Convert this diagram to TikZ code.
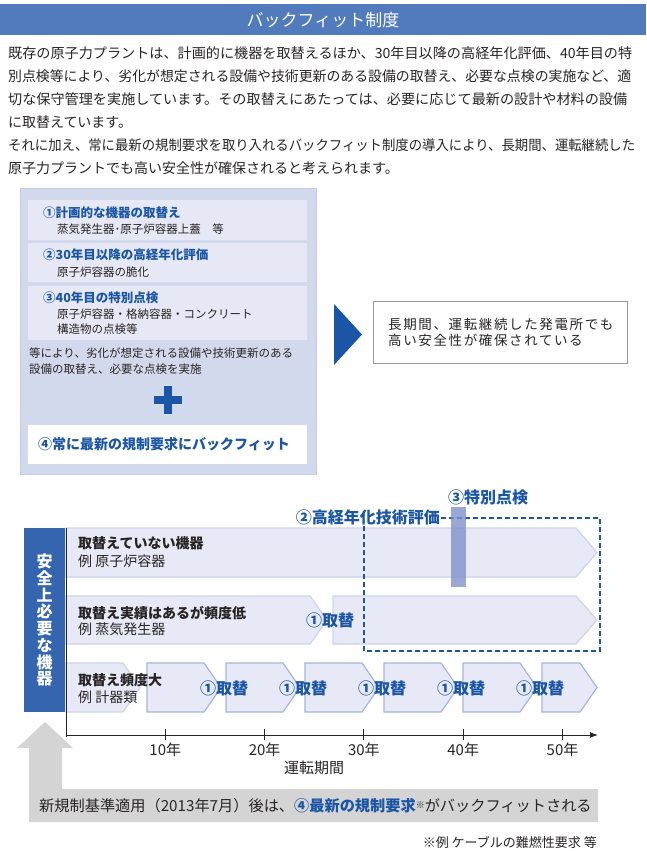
\documentclass[tikz,border=0pt]{standalone}
\usepackage{fontspec}
\setmainfont{Noto Sans CJK JP}
\newfontfamily\widejp[LetterSpace=12]{Noto Sans CJK JP}
\usepackage{graphicx}
\usetikzlibrary{arrows.meta, positioning}
\usepackage{xcolor}
\definecolor{titleblue}{RGB}{82,123,190}
\definecolor{markblue}{RGB}{26,86,165}
\definecolor{panelblue}{RGB}{211,217,236}
\definecolor{panelline}{RGB}{198,206,231}
\definecolor{cardblue}{RGB}{230,233,245}
\definecolor{arrowfill}{RGB}{231,234,246}
\definecolor{arrowline}{RGB}{204,211,234}
\definecolor{arrowdark}{RGB}{166,180,221}
\definecolor{safeblue}{RGB}{52,101,174}
\definecolor{checkbar}{RGB}{128,146,204}
\definecolor{basegray}{RGB}{212,212,212}
\definecolor{inkgray}{RGB}{40,36,36}

\newcommand{\jp}[1]{\fontsize{#1}{#1}\selectfont}
\newcommand{\fitline}[2]{\resizebox{#1pt}{\height}{#2}}
% [style]{left}{top}{tip}{bottom}{tip length}
\newcommand{\chevron}[6][]{%
  \draw[#1] (#2,#3) -- ({#4-#6},#3) -- (#4,{(#3+#5)/2}) -- ({#4-#6},#5) -- (#2,#5) -- cycle;}

\begin{document}
\begin{tikzpicture}[
  x=1pt, y=-1pt,
  bodytxt/.style={anchor=west, inner sep=0pt, text=inkgray, font=\jp{14}},
  titlebar/.style={fill=titleblue, text=white, minimum width=646pt, minimum height=31pt, inner sep=0pt, font=\jp{17}},
  panel/.style={anchor=north west, fill=panelblue, draw=panelline, minimum width=296pt, inner sep=0pt},
  card/.style={anchor=north west, fill=cardblue, minimum width=279pt, inner sep=0pt},
  cardhead/.style={anchor=west, inner sep=0pt, text=markblue, font=\jp{12.5}\bfseries},
  cardtxt/.style={anchor=west, inner sep=0pt, text=inkgray, font=\jp{11.5}, align=left},
  plusbar/.style={markblue, line width=8pt},
  resultbox/.style={anchor=north west, draw=gray!80, fill=white, minimum width=254pt, minimum height=62pt, inner sep=0pt},
  rowarrow/.style={fill=arrowfill, draw=arrowline, line width=1.2pt, line join=miter},
  stepbox/.style={rowarrow, draw=arrowdark},
  rowhead/.style={anchor=west, inner sep=0pt, text=inkgray, font=\jp{14}\bfseries},
  rowtxt/.style={anchor=west, inner sep=0pt, text=inkgray, font=\jp{14}},
  swaplabel/.style={inner sep=0pt, text=markblue, font=\jp{16}\bfseries},
  dashbox/.style={draw=markblue, line width=1.8pt, dash pattern=on 5pt off 3pt},
  axisline/.style={draw=inkgray, line width=1pt},
  ticklabel/.style={inner sep=0pt, text=inkgray, font=\jp{15}}
]
  \useasboundingbox (0,0) rectangle (646,851);

  % Title and lead text
  \node[titlebar] (title) at (323,20) {バックフィット制度};
  \node[bodytxt] (line1) at (8,53) {\fitline{624}{既存の原子力プラントは、計画的に機器を取替えるほか、30年目以降の高経年化評価、40年目の特}};
  \node[bodytxt] (line2) at (8,76) {\fitline{623}{別点検等により、劣化が想定される設備や技術更新のある設備の取替え、必要な点検の実施など、適}};
  \node[bodytxt] (line3) at (8,99) {\fitline{619}{切な保守管理を実施しています。その取替えにあたっては、必要に応じて最新の設計や材料の設備}};
  \node[bodytxt] (line4) at (8,122) {に取替えています。};
  \node[bodytxt] (line5) at (8,145) {\fitline{627}{それに加え、常に最新の規制要求を取り入れるバックフィット制度の導入により、長期間、運転継続した}};
  \node[bodytxt] (line6) at (8,168) {原子力プラントでも高い安全性が確保されると考えられます。};

  % Left panel
  \node[panel, minimum height=286pt] (panel) at (20,188) {};
  \node[card, minimum height=40pt] (card1) at (28,200) {};
  \node[card, minimum height=39pt] (card2) at (28,243) {};
  \node[card, minimum height=54pt] (card3) at (28,286) {};
  \node[cardhead] (head1) at (43,213) {①計画的な機器の取替え};
  \node[cardtxt] (sub1) at (57,229) {蒸気発生器･原子炉容器上蓋　等};
  \node[cardhead] (head2) at (43,255) {②30年目以降の高経年化評価};
  \node[cardtxt] (sub2) at (57,272) {原子炉容器の脆化};
  \node[cardhead] (head3) at (43,298) {③40年目の特別点検};
  \node[cardtxt] (sub3) at (57,314) {原子炉容器・格納容器・コンクリート};
  \node[cardtxt] (sub3b) at (57,329) {構造物の点検等};
  \node[cardtxt] (note1) at (29,353) {等により、劣化が想定される設備や技術更新のある};
  \node[cardtxt] (note2) at (29,369) {設備の取替え、必要な点検を実施};
  \coordinate (plus) at (168,400);
  \draw[plusbar] ([xshift=-14pt]plus) -- ([xshift=14pt]plus);
  \draw[plusbar] ([yshift=-14pt]plus) -- ([yshift=14pt]plus);
  \node[card, fill=white, minimum height=39pt] (backfit) at (28,425) {};
  \node[cardhead, font=\jp{14}\bfseries] (backfittxt) at (38,444) {④常に最新の規制要求にバックフィット};

  % Result
  \fill[markblue] (334,304) -- (362,334.5) -- (334,365) -- cycle;
  \node[resultbox] (result) at (373,301) {};
  \node[anchor=west, inner sep=0pt, align=left, text=inkgray, font=\widejp\fontsize{13.5}{15.5}\selectfont] (resulttxt) at (388,332.5) {長期間、運転継続した発電所でも\\高い安全性が確保されている};

  % Base arrow
  \fill[basegray] (45,722) -- (73,748) -- (62,748) -- (62,789) -- (598,789) -- (598,822) -- (29,822) -- (29,748) -- (17,748) -- cycle;
  \node[anchor=west, inner sep=0pt, text=inkgray, font=\jp{15.2}] (basetxt) at (39,806) {新規制基準適用（2013年7月）後は、{\color{markblue}\bfseries ④最新の規制要求}\raisebox{3pt}{\jp{9}※}がバックフィットされる};
  \node[anchor=east, inner sep=0pt, text=inkgray, font=\jp{13}] (footnote) at (597,842) {※例 ケーブルの難燃性要求 等};

  % Rows
  \chevron[rowarrow]{66}{528}{597}{577}{21}
  \chevron[rowarrow]{66}{596}{327}{644}{17}
  \chevron[rowarrow]{333}{596}{597}{644}{21}
  \chevron[rowarrow]{66}{663}{140}{712}{17}
  \foreach \l in {147,226,305,384,463}
    \chevron[stepbox]{\l}{663}{\l+74}{712}{17};
  \chevron[stepbox]{542}{663}{597}{712}{17}
  \foreach \l in {147,226,305,384,463}
    \node[swaplabel] at (\l+77,688) {①取替};
  \node[swaplabel] (swap2) at (330,620) {①取替};

  \node[rowhead] (row1) at (78,543) {取替えていない機器};
  \node[rowtxt] (row1ex) at (78,561) {例 原子炉容器};
  \node[rowhead] (row2) at (78,613) {取替え実績はあるが頻度低};
  \node[rowtxt] (row2ex) at (78,629) {例 蒸気発生器};
  \node[rowhead] (row3) at (78,680) {取替え頻度大};
  \node[rowtxt] (row3ex) at (78,697) {例 計器類};

  % Ageing evaluation and special inspection
  \draw[dashbox] (364,518) rectangle (600,651);
  \node[swaplabel, fill=white, inner sep=1pt, anchor=east] (ageing) at (441,517) {②高経年化技術評価};
  \fill[checkbar, opacity=0.8] (451,507) rectangle (466,587);
  \node[swaplabel, anchor=west] (special) at (448,497) {③特別点検};

  % Safety bar
  \node[anchor=north west, fill=safeblue, minimum width=41pt, minimum height=184pt, inner sep=0pt] (safe) at (24,528) {};
  \node[inner sep=0pt, align=center, text=white, font=\fontsize{16}{16.7}\selectfont\bfseries] (safetxt) at (safe.center) {安\\全\\上\\必\\要\\な\\機\\器};

  % Time axis
  \coordinate (axistop) at (66,528);
  \coordinate (origin) at (66,735);
  \coordinate (axisend) at (598,735);
  \draw[axisline] (axistop) -- ([yshift=-1.5pt]origin);
  \draw[axisline, -{Latex[length=8pt, width=6pt]}] ([xshift=-0.5pt]origin) -- (axisend);
  \foreach \n [count=\i] in {10,20,30,40,50} {
    \draw[axisline] (66+99.3*\i,729) -- (66+99.3*\i,740);
    \node[ticklabel] at (66+99.3*\i,750) {\n 年};
  }
  \node[ticklabel] (period) at (314,768) {運転期間};
\end{tikzpicture}
\end{document}
